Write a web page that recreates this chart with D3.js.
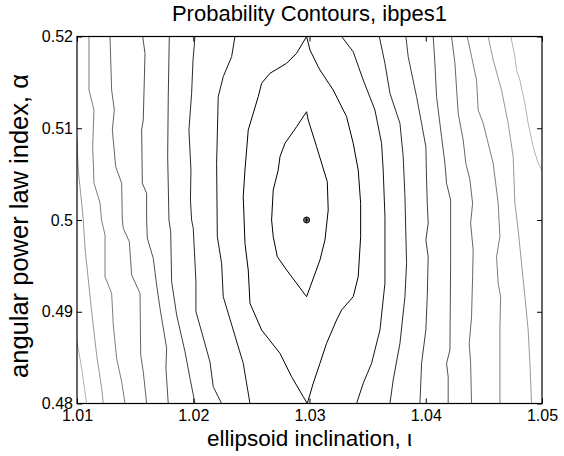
<!DOCTYPE html>
<html>
<head>
<meta charset="utf-8">
<script src="https://cdn.jsdelivr.net/npm/d3@7/dist/d3.min.js"></script>
<style>
  html, body { margin: 0; padding: 0; background: #fff; }
  text { font-family: "Liberation Sans", Arial, Helvetica, sans-serif; fill: #000; }
</style>
</head>
<body>
<svg id="chart" width="564" height="456"></svg>
<script>
// ---- data (x = ellipsoid inclination, y = angular power law index) ----
const title = "Probability Contours, ibpes1";
const xLabel = "ellipsoid inclination, \u03B9";
const yLabel = "angular power law index, \u03B1";
const xTicks = [1.01, 1.02, 1.03, 1.04, 1.05];
const xTickLabels = ["1.01", "1.02", "1.03", "1.04", "1.05"];
const yTicks = [0.48, 0.49, 0.50, 0.51, 0.52];
const yTickLabels = ["0.48", "0.49", "0.5", "0.51", "0.52"];
const bestFit = [1.02975, 0.500];

// contour level 1 (innermost, closed)
const level1 = [[1.02975,0.51180],[1.02889,0.51017],[1.02789,0.50836],[1.02746,0.50690],[1.02731,0.50545],[1.02688,0.50327],[1.02674,0.50000],[1.02688,0.49818],[1.02723,0.49600],[1.02803,0.49455],[1.02975,0.49164],[1.03090,0.49564],[1.03133,0.49782],[1.03161,0.50109],[1.03153,0.50417],[1.03061,0.50799],[1.02989,0.51090],[1.02975,0.51180]];
// level 2 (touches top and bottom edges)
const level2 = [[1.02975,0.52000],[1.02889,0.51817],[1.02803,0.51708],[1.02660,0.51599],[1.02588,0.51490],[1.02559,0.51344],[1.02473,0.50981],[1.02445,0.50545],[1.02430,0.50254],[1.02445,0.49746],[1.02473,0.49455],[1.02488,0.49092],[1.02588,0.48801],[1.02746,0.48547],[1.02846,0.48292],[1.02946,0.48074],[1.02981,0.48000],[1.03032,0.48220],[1.03090,0.48438],[1.03147,0.48656],[1.03233,0.48910],[1.03276,0.49019],[1.03376,0.49164],[1.03419,0.49382],[1.03440,0.49818],[1.03440,0.50182],[1.03419,0.50545],[1.03376,0.50836],[1.03319,0.51126],[1.03204,0.51417],[1.03090,0.51635],[1.03075,0.51671],[1.03004,0.51853],[1.02975,0.52000]];
// level 3
const level3Left = [[1.02359,0.52000],[1.02330,0.51780],[1.02258,0.51562],[1.02215,0.51344],[1.02201,0.50618],[1.02207,0.49818],[1.02244,0.49528],[1.02258,0.49164],[1.02344,0.48801],[1.02430,0.48438],[1.02488,0.48000]];
const level3Right = [[1.03276,0.52000],[1.03376,0.51834],[1.03462,0.51526],[1.03563,0.51199],[1.03620,0.50836],[1.03634,0.50545],[1.03649,0.50036],[1.03649,0.49310],[1.03606,0.48801],[1.03534,0.48438],[1.03462,0.48220],[1.03405,0.48000]];
// level 4
const level4Left = [[1.02015,0.52000],[1.01998,0.51744],[1.01986,0.51381],[1.01963,0.50981],[1.01980,0.50545],[1.01976,0.50218],[1.01986,0.50000],[1.02000,0.49910],[1.02023,0.49328],[1.02023,0.49001],[1.02075,0.48768],[1.02144,0.48452],[1.02172,0.48183],[1.02244,0.48000]];
const level4Right = [[1.03600,0.52000],[1.03649,0.51708],[1.03692,0.51381],[1.03778,0.51054],[1.03806,0.50690],[1.03821,0.50254],[1.03835,0.49528],[1.03821,0.49164],[1.03778,0.48656],[1.03720,0.48256],[1.03692,0.48000]];
// level 5
const level5Left = [[1.01794,0.52000],[1.01785,0.51344],[1.01780,0.50690],[1.01791,0.50000],[1.01806,0.49872],[1.01814,0.49328],[1.01857,0.48965],[1.01929,0.48565],[1.01972,0.48275],[1.02015,0.48000]];
const level5Right = [[1.03829,0.52000],[1.03849,0.51780],[1.03921,0.51344],[1.03964,0.51054],[1.04001,0.50799],[1.04007,0.50436],[1.04013,0.50182],[1.04021,0.49964],[1.04001,0.49782],[1.04021,0.49600],[1.04013,0.49164],[1.04001,0.48801],[1.03964,0.48438],[1.03950,0.48000]];
// level 6
const level6Left = [[1.01565,0.52000],[1.01585,0.51817],[1.01570,0.51090],[1.01556,0.50981],[1.01562,0.50400],[1.01599,0.50291],[1.01599,0.50000],[1.01605,0.49801],[1.01656,0.49583],[1.01685,0.49292],[1.01714,0.49038],[1.01771,0.48602],[1.01765,0.48384],[1.01785,0.48000]];
const level6Right = [[1.04064,0.52000],[1.04079,0.51708],[1.04093,0.51344],[1.04136,0.50908],[1.04165,0.50618],[1.04179,0.50400],[1.04214,0.50218],[1.04214,0.49528],[1.04208,0.48583],[1.04179,0.48438],[1.04193,0.48292],[1.04193,0.48000]];
// level 7
const level7Left = [[1.01284,0.52000],[1.01298,0.51417],[1.01321,0.51199],[1.01304,0.50981],[1.01333,0.50581],[1.01384,0.50400],[1.01390,0.50000],[1.01398,0.49910],[1.01450,0.49764],[1.01470,0.49401],[1.01542,0.49201],[1.01548,0.48529],[1.01570,0.48347],[1.01599,0.48000]];
const level7Right = [[1.04222,0.52000],[1.04251,0.51708],[1.04279,0.51163],[1.04322,0.50872],[1.04345,0.50618],[1.04380,0.50436],[1.04403,0.50182],[1.04386,0.49964],[1.04408,0.49673],[1.04403,0.49382],[1.04394,0.48946],[1.04374,0.48656],[1.04386,0.48438],[1.04394,0.48000]];
// level 8
const level8Left = [[1.01103,0.52000],[1.01103,0.51417],[1.01146,0.51199],[1.01135,0.50799],[1.01146,0.50403],[1.01198,0.50185],[1.01211,0.50000],[1.01241,0.49837],[1.01241,0.49382],[1.01298,0.49201],[1.01312,0.48856],[1.01341,0.48493],[1.01384,0.48238],[1.01413,0.48000]];
const level8Right = [[1.04357,0.52000],[1.04394,0.51780],[1.04437,0.51526],[1.04451,0.51199],[1.04494,0.51054],[1.04537,0.50836],[1.04580,0.50618],[1.04623,0.50182],[1.04638,0.49818],[1.04609,0.49600],[1.04623,0.49310],[1.04644,0.49164],[1.04638,0.48801],[1.04638,0.48000]];
// level 9
const level9Left = [[1.01000,0.50872],[1.01011,0.50545],[1.01040,0.50185],[1.01054,0.50000],[1.01069,0.49695],[1.01126,0.49001],[1.01169,0.48529],[1.01212,0.48166],[1.01226,0.48000]];
const level9Right = [[1.04537,0.52000],[1.04580,0.51744],[1.04652,0.51417],[1.04709,0.51054],[1.04752,0.50690],[1.04767,0.50182],[1.04795,0.49891],[1.04824,0.49528],[1.04853,0.49164],[1.04881,0.48801],[1.04896,0.48438],[1.04910,0.48000]];
// level 10 (outermost)
const level10Left = [[1.01000,0.48674],[1.01040,0.48384],[1.01083,0.48000]];
const level10Right = [[1.04732,0.52000],[1.04767,0.51780],[1.04781,0.51635],[1.04810,0.51526],[1.04833,0.51381],[1.04853,0.51272],[1.04881,0.51054],[1.04924,0.50799],[1.04967,0.50618],[1.05000,0.50545]];

const levelGreys = ["#000000","#000000","#151515","#2a2a2a","#3d3d3d","#505050","#666666","#7d7d7d","#979797","#b3b3b3"];

const contourLines = [
  {pts: level1, level: 1}, {pts: level2, level: 2},
  {pts: level3Left, level: 3}, {pts: level3Right, level: 3},
  {pts: level4Left, level: 4}, {pts: level4Right, level: 4},
  {pts: level5Left, level: 5}, {pts: level5Right, level: 5},
  {pts: level6Left, level: 6}, {pts: level6Right, level: 6},
  {pts: level7Left, level: 7}, {pts: level7Right, level: 7},
  {pts: level8Left, level: 8}, {pts: level8Right, level: 8},
  {pts: level9Left, level: 9}, {pts: level9Right, level: 9},
  {pts: level10Left, level: 10}, {pts: level10Right, level: 10}
];

// ---- layout ----
const svg = d3.select("#chart");
const pLeft = 77, pRight = 542, pTop = 36.5, pBottom = 403.5;
const x = d3.scaleLinear().domain([1.01, 1.05]).range([pLeft, pRight]);
const y = d3.scaleLinear().domain([0.48, 0.52]).range([pBottom, pTop]);

svg.append("defs").append("clipPath").attr("id", "plotclip")
  .append("rect").attr("x", pLeft).attr("y", pTop).attr("width", pRight - pLeft).attr("height", pBottom - pTop);

const line = d3.line().x(d => x(d[0])).y(d => y(d[1]));

svg.append("g").attr("clip-path", "url(#plotclip)")
  .selectAll("path").data(contourLines).join("path")
  .attr("d", d => line(d.pts))
  .attr("fill", "none")
  .attr("stroke", d => levelGreys[d.level - 1])
  .attr("stroke-width", 1)
  .attr("stroke-linejoin", "miter");

// best-fit marker
const mx = x(bestFit[0]), my = y(bestFit[1]);
const mk = svg.append("g").attr("stroke", "#000").attr("stroke-width", 1).attr("fill", "none");
mk.append("circle").attr("cx", mx).attr("cy", my).attr("r", 3);
mk.append("path").attr("d", `M${mx-3},${my}H${mx+3}M${mx},${my-3}V${my+3}M${mx-2.1},${my-2.1}L${mx+2.1},${my+2.1}M${mx-2.1},${my+2.1}L${mx+2.1},${my-2.1}`);

// box
svg.append("rect").attr("x", pLeft).attr("y", pTop).attr("width", pRight - pLeft).attr("height", pBottom - pTop)
  .attr("fill", "none").attr("stroke", "#000").attr("stroke-width", 1.2);

// axes with inward ticks
const tickLen = 5;
const xAxisB = d3.axisBottom(x).tickValues(xTicks).tickSize(-tickLen).tickPadding(tickLen + 4)
  .tickFormat((d, i) => xTickLabels[i]);
const xAxisT = d3.axisTop(x).tickValues(xTicks).tickSize(-tickLen).tickFormat("");
const yAxisL = d3.axisLeft(y).tickValues(yTicks).tickSize(-tickLen).tickPadding(tickLen + 4)
  .tickFormat((d, i) => yTickLabels[i]);
const yAxisR = d3.axisRight(y).tickValues(yTicks).tickSize(-tickLen).tickFormat("");

function styleAxis(g) {
  g.select(".domain").remove();
  g.selectAll(".tick line").attr("stroke", "#000").attr("stroke-width", 1);
  g.selectAll(".tick text").attr("font-family", '"Liberation Sans", Arial, sans-serif').attr("font-size", 16).attr("fill", "#000");
}
svg.append("g").attr("transform", `translate(0,${pBottom})`).call(xAxisB).call(styleAxis)
  .selectAll(".tick text").attr("dy", "0.71em").attr("y", 6);
svg.append("g").attr("transform", `translate(0,${pTop})`).call(xAxisT).call(styleAxis);
svg.append("g").attr("transform", `translate(${pLeft},0)`).call(yAxisL).call(styleAxis)
  .selectAll(".tick text").attr("x", -4);
svg.append("g").attr("transform", `translate(${pRight},0)`).call(yAxisR).call(styleAxis);

// titles
svg.append("text").attr("x", (pLeft + pRight) / 2).attr("y", 21).attr("text-anchor", "middle")
  .attr("font-size", 22).text(title);
svg.append("text").attr("x", (pLeft + pRight) / 2).attr("y", 446).attr("text-anchor", "middle")
  .attr("font-size", 22.5).text(xLabel);
svg.append("text").attr("transform", `translate(28,226) rotate(-90)`).attr("text-anchor", "middle")
  .attr("font-size", 25.5).text(yLabel);
</script>
</body>
</html>
